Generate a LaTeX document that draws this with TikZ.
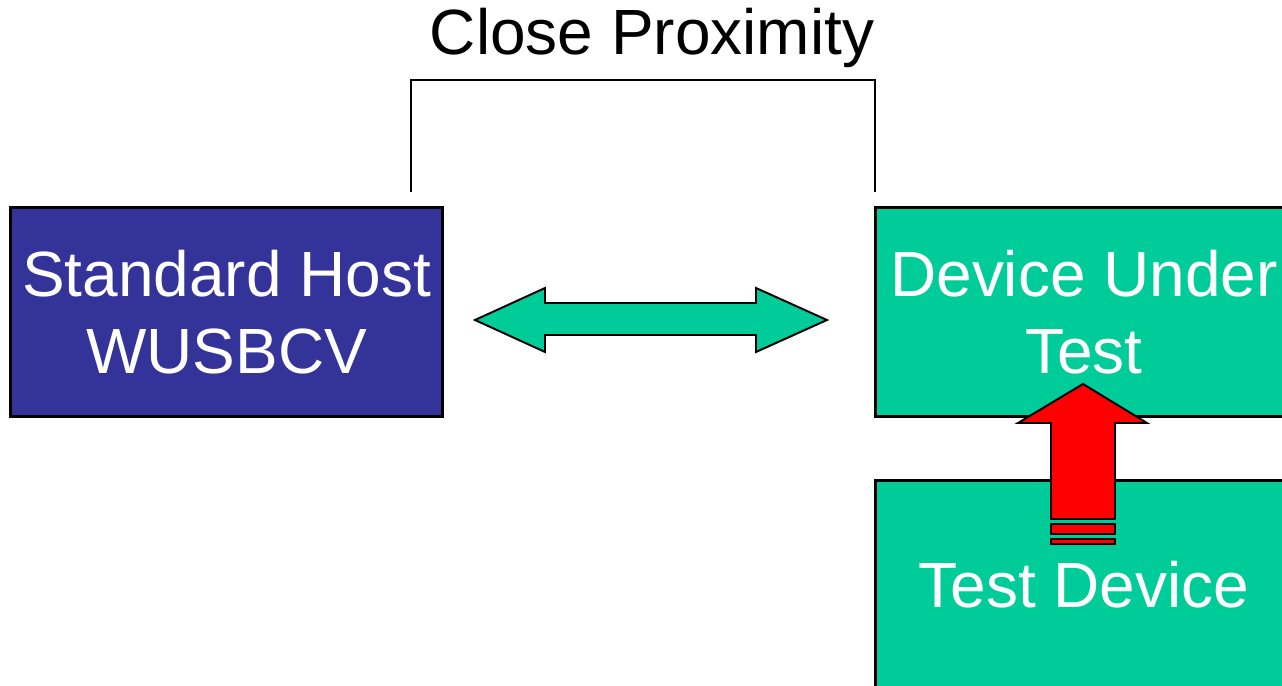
\documentclass[tikz,border=0pt]{standalone}
\usepackage{fontspec}
\setmainfont{Liberation Sans}
\usetikzlibrary{positioning}

\definecolor{hostblue}{HTML}{333399}
\definecolor{devgreen}{HTML}{00CC99}
\definecolor{arrowred}{HTML}{FF0000}

\begin{document}
\begin{tikzpicture}[x=0.02cm, y=-0.02cm, line join=miter,
    box/.style={draw=black, line width=1.7pt, text=white, align=center,
      font=\fontsize{36.4}{43.7}\selectfont, inner sep=0pt},
    blockarrow/.style={draw=black, line width=1.1pt}]
    \useasboundingbox (0,0) rectangle (1282,686);
    \clip (0,0) rectangle (1282,686);
    % boxes
    \node[box, fill=hostblue, minimum width=8.66cm, minimum height=4.18cm] (host) at (226.5,312) {Standard Host\\WUSBCV};
    \node[box, fill=devgreen, minimum width=8.36cm, minimum height=4.18cm] (dut) at (1084,312) {Device Under\\Test};
    \node[box, fill=devgreen, minimum width=8.36cm, minimum height=4.2cm] (tdev) at (1084,585) {Test Device};
    % proximity bracket
    \node[font=\fontsize{36.4}{43.7}\selectfont] (prox) at (652,38) {Close Proximity};
    \draw[line width=1.1pt] (411,192) |- (875,80) -- (875,192);
    % link between host and device
    \draw[blockarrow, fill=devgreen] (475,320) -- (545,288) -- (545,303) -- (756,303) -- (756,288) -- (827,320)
      -- (756,352) -- (756,335) -- (545,335) -- (545,352) -- cycle;
    % test device acting on device under test
    \draw[blockarrow, fill=arrowred] (1083,384) -- (1147,423) -- (1115,423) -- (1115,519) -- (1051,519)
      -- (1051,423) -- (1018,423) -- cycle;
    \draw[blockarrow, fill=arrowred] (1051,524) rectangle (1115,534);
    \draw[blockarrow, fill=arrowred] (1051,539) rectangle (1115,544);
\end{tikzpicture}
\end{document}
